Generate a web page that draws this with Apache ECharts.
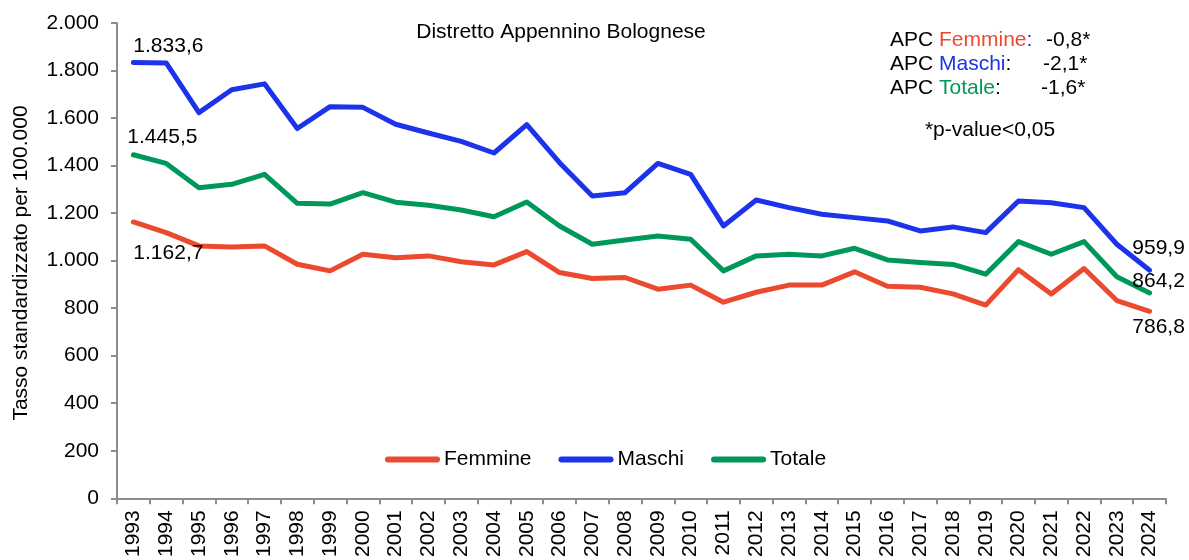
<!DOCTYPE html>
<html>
<head>
<meta charset="utf-8">
<script src="https://cdn.jsdelivr.net/npm/echarts@6/dist/echarts.min.js"></script>
<style>
  html, body { margin: 0; padding: 0; background: #fff; }
  #chart { width: 1189px; height: 560px; }
</style>
</head>
<body>
<div id="chart"></div>
<script>
// Anni di osservazione
const years = ['1993','1994','1995','1996','1997','1998','1999','2000','2001','2002','2003','2004','2005','2006','2007','2008','2009','2010','2011','2012','2013','2014','2015','2016','2017','2018','2019','2020','2021','2022','2023','2024'];

// Tassi standardizzati per 100.000
const femmine = [1162.7, 1118, 1062, 1057, 1062, 985, 957, 1027, 1012, 1020, 995, 982, 1038, 950, 925, 929, 880, 897, 825, 867, 897, 897, 953, 892, 888, 860, 813, 962, 860, 967, 832, 786.8];
const maschi  = [1833.6, 1832, 1623, 1719, 1744, 1556, 1648, 1645, 1574, 1537, 1502, 1453, 1572, 1412, 1272, 1286, 1409, 1363, 1146, 1255, 1223, 1195, 1181, 1167, 1125, 1142, 1118, 1251, 1244, 1223, 1069, 959.9];
const totale  = [1445.5, 1409, 1307, 1321, 1363, 1241, 1238, 1286, 1246, 1233, 1213, 1185, 1247, 1146, 1069, 1087, 1104, 1090, 957, 1020, 1027, 1020, 1052, 1003, 992, 984, 943, 1080, 1027, 1080, 932, 864.2];

// Variazione percentuale annua
const apcLabels = ['Femmine', 'Maschi', 'Totale'];
const apcValues = ['-0,8*', '-2,1*', '-1,6*'];

const FONT = '"Liberation Sans", Arial, sans-serif';
const FS = 21;
const RED = '#EB4A2E', BLUE = '#1D33E9', GREEN = '#00985A';

// Formato numerico italiano: 1.833,6
function itNum(v, dec) {
  const s = v.toFixed(dec);
  const parts = s.split('.');
  const intPart = parts[0].replace(/\B(?=(\d{3})+(?!\d))/g, '.');
  return parts.length > 1 ? intPart + ',' + parts[1] : intPart;
}

// Etichette solo sul primo e sull'ultimo anno
function withEndLabels(values, first, last) {
  return values.map((v, i) => {
    if (i === 0) return { value: v, label: Object.assign({ show: true }, first) };
    if (i === values.length - 1) return { value: v, label: Object.assign({ show: true }, last) };
    return v;
  });
}

const labelBase = {
  formatter: p => itNum(p.value, 1),
  fontSize: FS, color: '#000', fontFamily: FONT
};

function lineSeries(name, color, data) {
  return {
    name, type: 'line', data,
    symbol: 'circle', symbolSize: 1, showSymbol: true,
    itemStyle: { color },
    lineStyle: { color, width: 5, join: 'round', cap: 'round' },
    label: Object.assign({ show: false }, labelBase),
    emphasis: { disabled: true },
    animation: false
  };
}

const chart = echarts.init(document.getElementById('chart'), null, { renderer: 'canvas' });

const apcGraphics = [];
const apcColors = [RED, BLUE, GREEN];
const apcColonColors = [BLUE, '#000', '#000'];
const apcValueX = [1046, 1043, 1041];
apcLabels.forEach((lab, i) => {
  const y = 40 + i * 24;
  apcGraphics.push({
    type: 'text', x: 890, y: y,
    style: {
      text: '{k|APC }{c|' + lab + '}{d|:}',
      fontFamily: FONT, fontSize: FS, verticalAlign: 'middle',
      rich: {
        k: { fill: '#000', fontSize: FS, fontFamily: FONT },
        c: { fill: apcColors[i], fontSize: FS, fontFamily: FONT },
        d: { fill: apcColonColors[i], fontSize: FS, fontFamily: FONT }
      }
    }
  });
  apcGraphics.push({
    type: 'text', x: apcValueX[i], y: y,
    style: { text: apcValues[i], fill: '#000', fontFamily: FONT, fontSize: FS, verticalAlign: 'middle' }
  });
});

const option = {
  backgroundColor: '#fff',
  animation: false,
  grid: { left: 117, right: 23, top: 23, bottom: 60, containLabel: false },
  legend: {
    data: ['Femmine', 'Maschi', 'Totale'],
    left: 380, top: 444,
    selectedMode: false,
    icon: 'path://M3,0 L52,0 A3,3 0 0 1 52,6 L3,6 A3,3 0 0 1 3,0 Z',
    itemWidth: 55, itemHeight: 6, itemGap: 27,
    textStyle: { fontSize: FS, color: '#000', fontFamily: FONT, padding: [0, 0, 0, -1] }
  },
  xAxis: {
    type: 'category', data: years, boundaryGap: true,
    axisLine: { lineStyle: { color: '#8c8c8c', width: 2 } },
    axisTick: { show: true, length: 6, lineStyle: { color: '#8c8c8c', width: 2 } },
    axisLabel: { rotate: 90, interval: 0, fontSize: FS, color: '#000', fontFamily: FONT, margin: 12 },
    splitLine: { show: false }
  },
  yAxis: {
    type: 'value', min: 0, max: 2000, interval: 200,
    axisLine: { show: true, lineStyle: { color: '#8c8c8c', width: 2 } },
    axisTick: { show: true, length: 6, lineStyle: { color: '#8c8c8c', width: 2 } },
    axisLabel: { fontSize: FS, color: '#000', fontFamily: FONT, margin: 18, formatter: v => itNum(v, 0) },
    splitLine: { show: false }
  },
  graphic: [
    {
      type: 'text', x: 561, y: 32,
      style: { text: 'Distretto Appennino Bolognese', fill: '#000', fontFamily: FONT, fontSize: FS, align: 'center', verticalAlign: 'middle' }
    },
    {
      type: 'text', x: 21, y: 263, rotation: Math.PI / 2,
      style: { text: 'Tasso standardizzato per 100.000', fill: '#000', fontFamily: FONT, fontSize: FS, align: 'center', verticalAlign: 'middle' }
    },
    {
      type: 'text', x: 990, y: 130,
      style: { text: '*p-value<0,05', fill: '#000', fontFamily: FONT, fontSize: FS, align: 'center', verticalAlign: 'middle' }
    }
  ].concat(apcGraphics),
  series: [
    lineSeries('Femmine', RED, withEndLabels(femmine,
      { position: 'bottom', distance: 20, offset: [35, 0] },
      { position: 'bottom', distance: 5, offset: [9, 0] })),
    lineSeries('Maschi', BLUE, withEndLabels(maschi,
      { position: 'top', distance: 5, offset: [35, 0] },
      { position: 'top', distance: 11, offset: [9, 0] })),
    lineSeries('Totale', GREEN, withEndLabels(totale,
      { position: 'top', distance: 7, offset: [29, 0] },
      { position: 'top', distance: 1, offset: [9, 0] }))
  ]
};

chart.setOption(option);
</script>
</body>
</html>
